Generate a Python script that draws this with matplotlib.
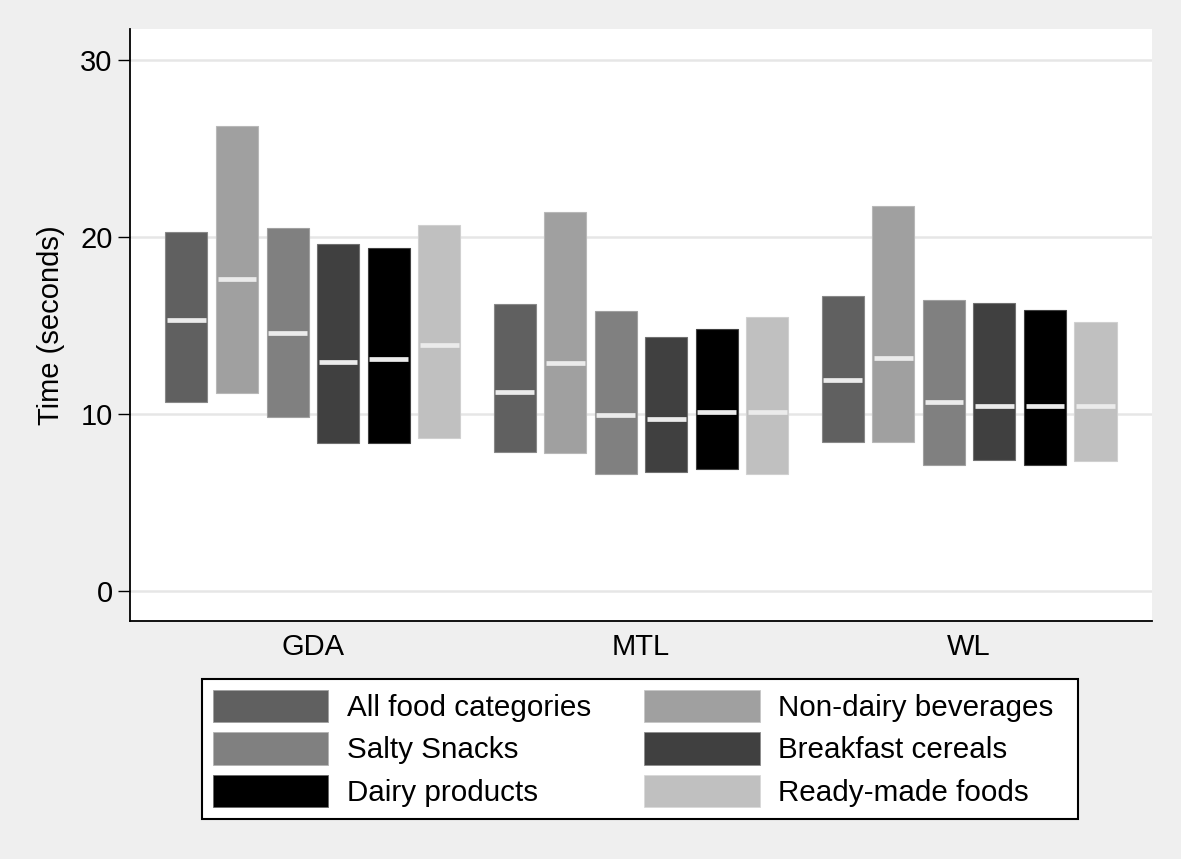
import matplotlib.pyplot as plt
import matplotlib.patches as mpatches
from matplotlib.colors import to_rgb

plt.rcParams['font.family'] = ['Liberation Sans', 'DejaVu Sans']

# groups along x axis
groups = ['GDA', 'MTL', 'WL']
categories = ['All food categories', 'Non-dairy beverages', 'Salty Snacks',
              'Breakfast cereals', 'Dairy products', 'Ready-made foods']
colors = ['#606060', '#a0a0a0', '#808080', '#404040', '#000000', '#c0c0c0']

# box low / median / high per category, one value per group (GDA, MTL, WL)
low = [[10.7, 7.87, 8.44],
       [11.17, 7.78, 8.40],
       [9.85, 6.63, 7.10],
       [8.34, 6.70, 7.38],
       [8.38, 6.87, 7.12],
       [8.64, 6.59, 7.36]]
median = [[15.3, 11.24, 11.94],
          [17.65, 12.86, 13.14],
          [14.6, 9.92, 10.68],
          [12.94, 9.72, 10.45],
          [13.09, 10.09, 10.45],
          [13.88, 10.09, 10.47]]
high = [[20.3, 16.2, 16.65],
        [26.27, 21.43, 21.77],
        [20.5, 15.84, 16.42],
        [19.6, 14.35, 16.25],
        [19.38, 14.78, 15.86],
        [20.7, 15.48, 15.2]]

yticks = [0, 10, 20, 30]


def lighter(c, f=0.25):
    r, g, b = to_rgb(c)
    return (r + (1 - r) * f, g + (1 - g) * f, b + (1 - b) * f)


fig = plt.figure(figsize=(11.81, 8.59), dpi=100, facecolor='#efefef')
ax = fig.add_axes([0.1101, 0.2771, 0.8653, 0.6891])
ax.set_facecolor('white')

width = 0.128
pitch = 0.154
for i in range(len(categories)):
    for g in range(len(groups)):
        x = g + 1 + (i - 2.5) * pitch
        ax.bar(x, high[i][g] - low[i][g], bottom=low[i][g], width=width,
               color=colors[i], edgecolor=lighter(colors[i]), linewidth=0.8, zorder=3)
        ax.hlines(median[i][g], x - width / 2 + 0.005, x + width / 2 - 0.005,
                  color='#ebebeb', linewidth=3.4, zorder=4)

ax.set_xlim(0.443, 3.557)
ax.set_ylim(-1.69, 31.75)
ax.set_xticks([1, 2, 3])
ax.set_xticklabels(groups)
ax.set_yticks(yticks)
ax.tick_params(axis='x', length=0, labelsize=21, pad=9)
ax.tick_params(axis='y', length=8.5, width=1.0, labelsize=21, pad=4)
ax.grid(axis='y', color='#e6e6e6', linewidth=1.8, zorder=0)
ax.set_axisbelow(True)
for s in ['top', 'right']:
    ax.spines[s].set_visible(False)
for s in ['left', 'bottom']:
    ax.spines[s].set_linewidth(1.3)
    ax.spines[s].set_color('black')
ax.set_ylabel('Time (seconds)', fontsize=21, labelpad=11)

# legend box drawn separately so the padding matches
box = mpatches.Rectangle((202 / 1181, (859 - 819) / 859), 876 / 1181, 140 / 859,
                         transform=fig.transFigure, facecolor='white',
                         edgecolor='black', linewidth=1.5, zorder=1)
fig.patches.append(box)

# legend, filled column-wise so reorder handles
order = [0, 2, 4, 1, 3, 5]
handles = [mpatches.Patch(facecolor=colors[k], edgecolor=lighter(colors[k], 0.4),
                          linewidth=0.6, label=categories[k]) for k in order]
leg = fig.legend(handles=handles, ncol=2, loc='upper left',
                 bbox_to_anchor=(213 / 1181, (859 - 690) / 859), fontsize=21.3,
                 frameon=False, handlelength=3.9, handleheight=1.3,
                 handletextpad=0.62, columnspacing=1.8, labelspacing=0.34,
                 borderpad=0, borderaxespad=0)
leg.set_zorder(2)

plt.savefig('out.png', dpi=100, facecolor=fig.get_facecolor())
